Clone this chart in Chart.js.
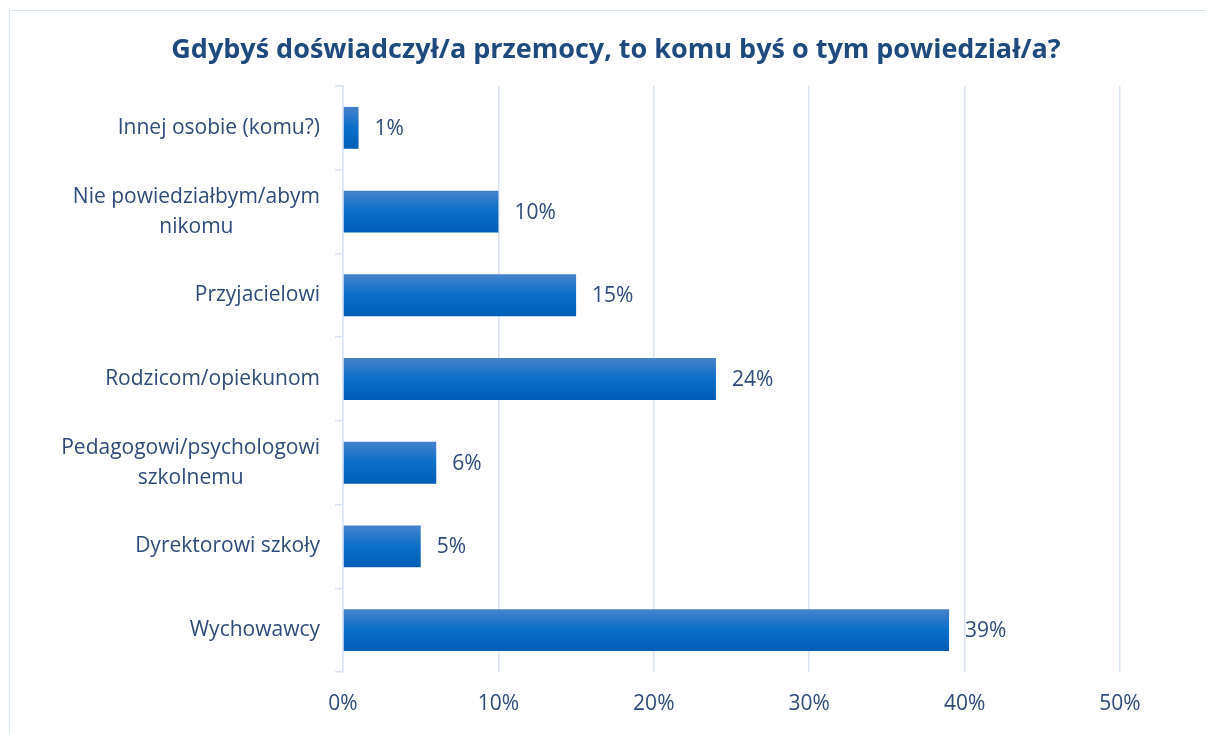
<!DOCTYPE html>
<html>
<head>
<meta charset="utf-8">
<script src="https://cdn.jsdelivr.net/npm/chart.js@4"></script>
<style>
  html, body { margin: 0; padding: 0; background: #fff; overflow: hidden; }
  #frame { position: absolute; left: 9px; top: 10px; width: 1210px; height: 740px; border: 1.5px solid #d9e4f5; box-sizing: border-box; }
  #wrap { position: absolute; left: 0; top: 0; width: 1205px; height: 733px; }
</style>
</head>
<body>
<div id="frame"></div>
<div id="wrap"><canvas id="chart"></canvas></div>
<script>
// ===== Data =====
const title = 'Gdybyś doświadczył/a przemocy, to komu byś o tym powiedział/a?';
const categories = [
    ['Innej osobie (komu?)'],
    ['Nie powiedziałbym/abym', 'nikomu'],
    ['Przyjacielowi'],
    ['Rodzicom/opiekunom'],
    ['Pedagogowi/psychologowi', 'szkolnemu'],
    ['Dyrektorowi szkoły'],
    ['Wychowawcy']
];
const percents = [1, 10, 15, 24, 6, 5, 39];
const xTicks = [0, 10, 20, 30, 40, 50];

const textColor = '#2f4b7c';
const gridColor = '#d9e3f3';
const fontFamily = '"Open Sans", sans-serif';
const labelSize = 21;

// ===== Plugins =====
// title, centred on the whole frame
const chartTitle = {
    id: 'chartTitle',
    afterDraw(chart) {
        const ctx = chart.ctx;
        ctx.save();
        ctx.font = 'bold 27px ' + fontFamily;
        ctx.fillStyle = '#1f4a7e';
        ctx.textAlign = 'center';
        ctx.textBaseline = 'middle';
        ctx.fillText(title, 616, 50);
        ctx.restore();
    }
};

// value labels at the end of each bar
const valueLabels = {
    id: 'valueLabels',
    afterDatasetsDraw(chart) {
        const ctx = chart.ctx;
        ctx.save();
        ctx.font = labelSize + 'px ' + fontFamily;
        ctx.fillStyle = textColor;
        ctx.textBaseline = 'middle';
        ctx.textAlign = 'left';
        chart.getDatasetMeta(0).data.forEach((bar, i) => {
            ctx.fillText(percents[i] + '%', bar.x + 16, bar.y + 1);
        });
        ctx.restore();
    }
};

// category labels: block right aligned, lines centred inside the block
const categoryLabels = {
    id: 'categoryLabels',
    afterDraw(chart) {
        const ctx = chart.ctx;
        const y = chart.scales.y;
        const right = 320;
        const lineH = 30;
        ctx.save();
        ctx.font = labelSize + 'px ' + fontFamily;
        ctx.fillStyle = textColor;
        ctx.textBaseline = 'middle';
        ctx.textAlign = 'center';
        categories.forEach((lines, i) => {
            const w = Math.max(...lines.map(l => ctx.measureText(l).width));
            const cx = right - w / 2;
            const cy = y.getPixelForValue(i) - (lines.length - 1) * lineH / 2;
            lines.forEach((l, k) => ctx.fillText(l, cx, cy + k * lineH));
        });
        ctx.restore();
    }
};

// vertical gradient for each bar, from the category scale
function barFill(c) {
    const chart = c.chart;
    const y = chart.scales.y;
    if (!y || !chart.chartArea) return '#0a6fc7';
    const half = (y.height / categories.length) * 0.5 / 2;
    const mid = y.getPixelForValue(c.dataIndex);
    const g = chart.ctx.createLinearGradient(0, mid - half, 0, mid + half);
    g.addColorStop(0, '#4582cd');
    g.addColorStop(0.5, '#0a6fc7');
    g.addColorStop(1, '#005db6');
    return g;
}

// ===== Chart =====
const ctx = document.getElementById('chart').getContext('2d');
new Chart(ctx, {
    type: 'bar',
    data: {
        labels: categories.map(c => c.join(' ')),
        datasets: [{
            data: percents,
            backgroundColor: barFill,
            barPercentage: 0.5,
            categoryPercentage: 1
        }]
    },
    options: {
        indexAxis: 'y',
        responsive: true,
        maintainAspectRatio: false,
        animation: false,
        layout: { padding: { left: 0, right: 85, top: 86, bottom: 0 } },
        plugins: {
            legend: { display: false },
            tooltip: { enabled: false },
            title: { display: false }
        },
        scales: {
            x: {
                min: 0,
                max: 50,
                afterBuildTicks: scale => { scale.ticks = xTicks.map(v => ({ value: v })); },
                afterFit: scale => { scale.height = 61; },
                grid: { color: gridColor, lineWidth: 1.5, drawTicks: false },
                border: { display: false },
                ticks: {
                    padding: 19,
                    color: textColor,
                    font: { family: fontFamily, size: labelSize },
                    callback: v => v + '%'
                }
            },
            y: {
                afterFit: scale => { scale.width = 343; },
                grid: { color: gridColor, lineWidth: 1.5, drawOnChartArea: false, tickLength: 8 },
                border: { color: gridColor, width: 1.5 },
                ticks: { display: false }
            }
        }
    },
    plugins: [valueLabels, categoryLabels, chartTitle]
});
</script>
</body>
</html>
